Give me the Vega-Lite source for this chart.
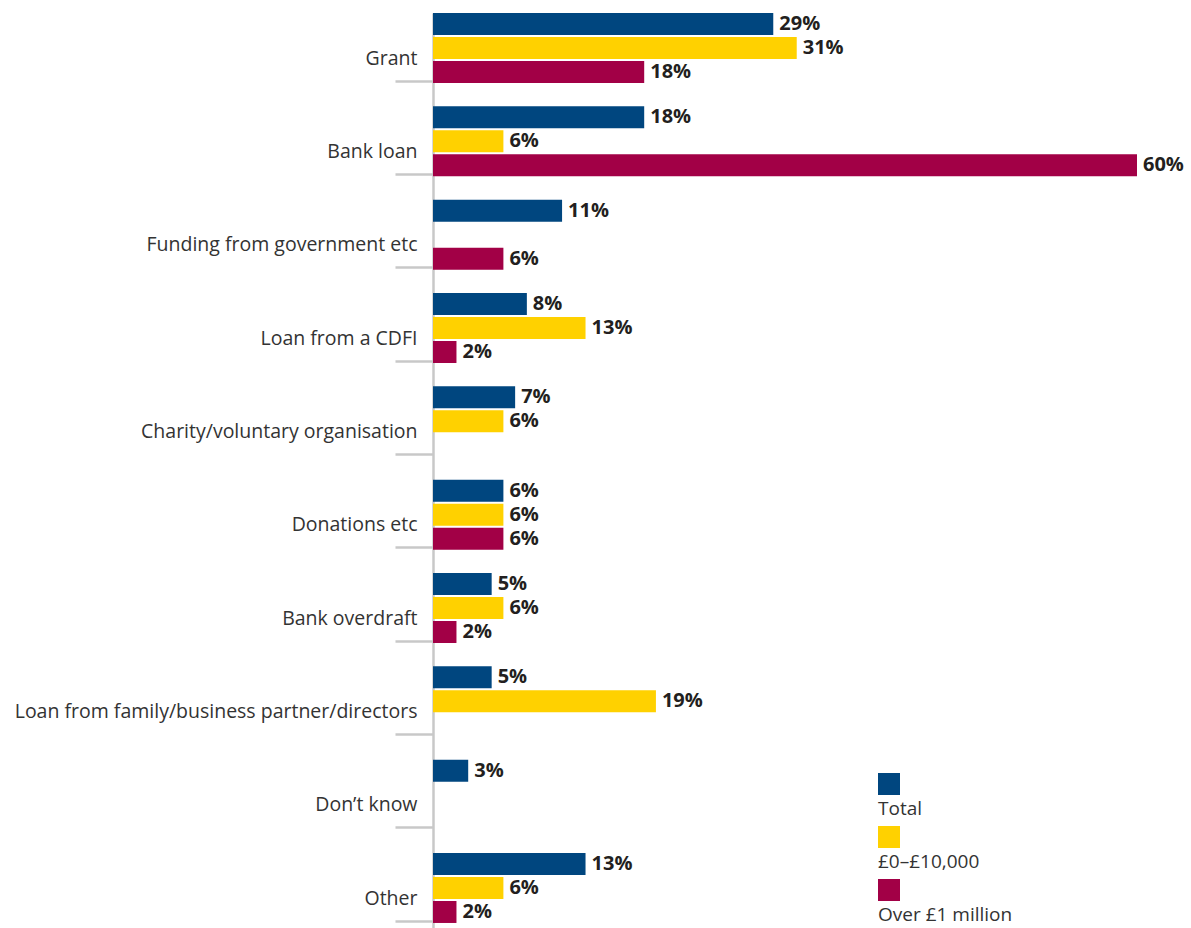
{
  "$schema": "https://vega.github.io/schema/vega-lite/v6.json",
  "width": 704,
  "height": 915,
  "autosize": {"type": "none"},
  "padding": {"left": 433, "top": 13, "right": 54, "bottom": 0},
  "config": {
    "view": {"stroke": null},
    "font": "Open Sans",
    "style": {"guide-label": {"lineHeight": 16}},
    "legend": {
      "orient": "none",
      "legendX": 445,
      "legendY": 760,
      "padding": 0,
      "symbolType": "square",
      "symbolSize": 484,
      "symbolStrokeWidth": 0,
      "symbolOpacity": 1,
      "labelFont": "Open Sans",
      "labelFontSize": 19,
      "labelColor": "#333333",
      "labelBaseline": "top",
      "labelOffset": -22,
      "labelLimit": 0,
      "rowPadding": 7
    }
  },
  "data": {
    "values": [
      {"cat": "Grant", "series": "Total", "value": 0.29},
      {"cat": "Grant", "series": "£0–£10,000", "value": 0.31},
      {"cat": "Grant", "series": "Over £1 million", "value": 0.18},
      {"cat": "Bank loan", "series": "Total", "value": 0.18},
      {"cat": "Bank loan", "series": "£0–£10,000", "value": 0.06},
      {"cat": "Bank loan", "series": "Over £1 million", "value": 0.60},
      {"cat": "Funding from government etc", "series": "Total", "value": 0.11},
      {"cat": "Funding from government etc", "series": "Over £1 million", "value": 0.06},
      {"cat": "Loan from a CDFI", "series": "Total", "value": 0.08},
      {"cat": "Loan from a CDFI", "series": "£0–£10,000", "value": 0.13},
      {"cat": "Loan from a CDFI", "series": "Over £1 million", "value": 0.02},
      {"cat": "Charity/voluntary organisation", "series": "Total", "value": 0.07},
      {"cat": "Charity/voluntary organisation", "series": "£0–£10,000", "value": 0.06},
      {"cat": "Donations etc", "series": "Total", "value": 0.06},
      {"cat": "Donations etc", "series": "£0–£10,000", "value": 0.06},
      {"cat": "Donations etc", "series": "Over £1 million", "value": 0.06},
      {"cat": "Bank overdraft", "series": "Total", "value": 0.05},
      {"cat": "Bank overdraft", "series": "£0–£10,000", "value": 0.06},
      {"cat": "Bank overdraft", "series": "Over £1 million", "value": 0.02},
      {"cat": "Loan from family/business partner/directors", "series": "Total", "value": 0.05},
      {"cat": "Loan from family/business partner/directors", "series": "£0–£10,000", "value": 0.19},
      {"cat": "Don’t know", "series": "Total", "value": 0.03},
      {"cat": "Other", "series": "Total", "value": 0.13},
      {"cat": "Other", "series": "£0–£10,000", "value": 0.06},
      {"cat": "Other", "series": "Over £1 million", "value": 0.02}
    ]
  },
  "encoding": {
    "y": {
      "field": "cat",
      "type": "nominal",
      "sort": ["Grant", "Bank loan", "Funding from government etc", "Loan from a CDFI", "Charity/voluntary organisation", "Donations etc", "Bank overdraft", "Loan from family/business partner/directors", "Don’t know", "Other"],
      "scale": {"range": [0, 933.3], "paddingInner": 0, "paddingOuter": 0},
      "axis": {
        "title": null,
        "grid": false,
        "domainColor": "#c8c8c8",
        "domainWidth": 2.5,
        "tickColor": "#c8c8c8",
        "tickWidth": 2.5,
        "tickSize": 38,
        "bandPosition": 0.73,
        "labelOffset": -1,
        "labelPadding": -22,
        "labelFont": "Open Sans",
        "labelFontSize": 19.5,
        "labelColor": "#333333",
        "labelLimit": 0,
        "labelBaseline": "middle"
      }
    },
    "x": {
      "field": "value",
      "type": "quantitative",
      "scale": {"domain": [0, 0.6], "nice": false},
      "axis": null
    },
    "yOffset": {
      "field": "series",
      "sort": ["Total", "£0–£10,000", "Over £1 million"],
      "scale": {"range": [0, 70], "paddingInner": 0.0833, "paddingOuter": 0}
    }
  },
  "layer": [
    {
      "mark": {"type": "bar"},
      "encoding": {
        "color": {
          "field": "series",
          "type": "nominal",
          "sort": ["Total", "£0–£10,000", "Over £1 million"],
          "scale": {"domain": ["Total", "£0–£10,000", "Over £1 million"], "range": ["#00467f", "#ffd100", "#a20046"]},
          "legend": {"title": null, "labelExpr": "['', datum.label]"}
        }
      }
    },
    {
      "mark": {"type": "text", "align": "left", "baseline": "middle", "dx": 6, "fontSize": 20, "fontWeight": "bold", "color": "#231f20", "font": "Open Sans"},
      "encoding": {
        "text": {"field": "value", "type": "quantitative", "format": ".0%"}
      }
    }
  ]
}
